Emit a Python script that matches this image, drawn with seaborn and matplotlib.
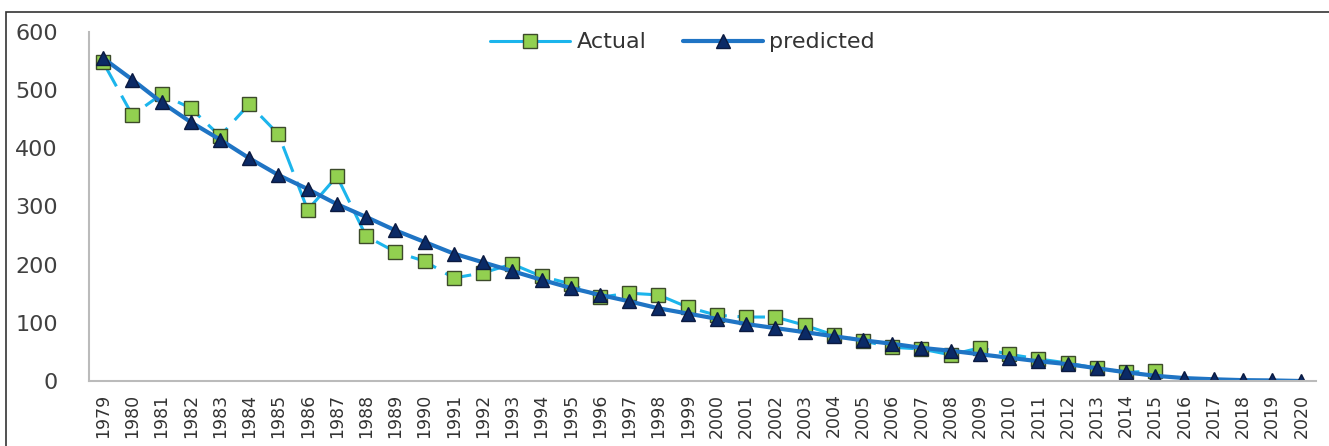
import numpy as np
import pandas as pd
import matplotlib
matplotlib.use("Agg")
import matplotlib.pyplot as plt
import seaborn as sns
from matplotlib.patches import Rectangle

# data
years = list(range(1979, 2021))
actual_years = list(range(1979, 2016))
actual = [548, 457, 493, 469, 421, 476, 424, 294, 352, 249,
          222, 206, 177, 186, 201, 180, 167, 144, 151, 148,
          127, 113, 110, 110, 96, 79, 69, 58, 55, 45,
          57, 46, 38, 31, 22, 15, 17]
predicted = [555, 518, 479, 445, 415, 383, 354, 330, 304, 282,
             259, 239, 219, 204, 189, 174, 160, 148, 137, 125,
             116, 107, 98, 91, 84, 77, 70, 64, 57, 52,
             46, 40, 34, 29, 22, 15, 9, 5, 3, 1.5, 1, 0]

df_act = pd.DataFrame({"year": actual_years, "value": actual})
df_pred = pd.DataFrame({"year": years, "value": predicted})

sns.set_theme(style="white")
plt.rcParams['font.family'] = ['DejaVu Sans']

fig = plt.figure(figsize=(13.29, 4.46), dpi=100)
ax = fig.add_axes([0.0666, 0.1457, 0.9236, 0.7826])

sns.lineplot(data=df_act, x="year", y="value", ax=ax, color="#1CB5EC",
             linewidth=2.2, linestyle=(0, (9, 3.5)), marker="s", markersize=9.5,
             markerfacecolor="#92D050", markeredgecolor="#3C4A2A",
             markeredgewidth=1.0, label="Actual")
sns.lineplot(data=df_pred, x="year", y="value", ax=ax, color="#1F74C4",
             linewidth=3.0, marker="^", markersize=10.5,
             markerfacecolor="#0B2A66", markeredgecolor="#0B1A40",
             markeredgewidth=1.0, label="predicted")

ax.set_xlim(1978.5, 2020.5)
ax.set_ylim(0, 600)
ax.set_yticks([0, 100, 200, 300, 400, 500, 600])
ax.set_xticks(years)
ax.set_xticklabels([str(y) for y in years], rotation=90, fontsize=12.5, color="#333333")
ax.set_xticks(np.arange(1978.5, 2021, 1), minor=True)
ax.tick_params(axis="x", which="major", length=0, pad=9)
ax.tick_params(axis="x", which="minor", length=8, width=1.2, color="#BBBBBB", direction="out")
ax.tick_params(axis="y", length=8, width=1.2, color="#BBBBBB", direction="out",
               labelsize=16, labelcolor="#404040", pad=14)
ax.set_xlabel("")
ax.set_ylabel("")

for s in ["top", "right"]:
    ax.spines[s].set_visible(False)
for s in ["left", "bottom"]:
    ax.spines[s].set_color("#BBBBBB")
    ax.spines[s].set_linewidth(1.5)

leg = ax.legend(loc="center", bbox_to_anchor=(0.484, 0.97), ncol=2, frameon=False,
                fontsize=16, handlelength=3.6, columnspacing=1.6, handletextpad=0.3,
                labelcolor="#333333")
leg.get_lines()[0].set_linestyle("-")

# outer chart border (cropped on right and bottom in the reference)
fig.patches.append(Rectangle((6 / 1329, -0.05), 1.2, 1 - 12 / 446 + 0.05,
                             transform=fig.transFigure, fill=False,
                             edgecolor="#333333", linewidth=1.2))

fig.savefig("out.png", dpi=100)
